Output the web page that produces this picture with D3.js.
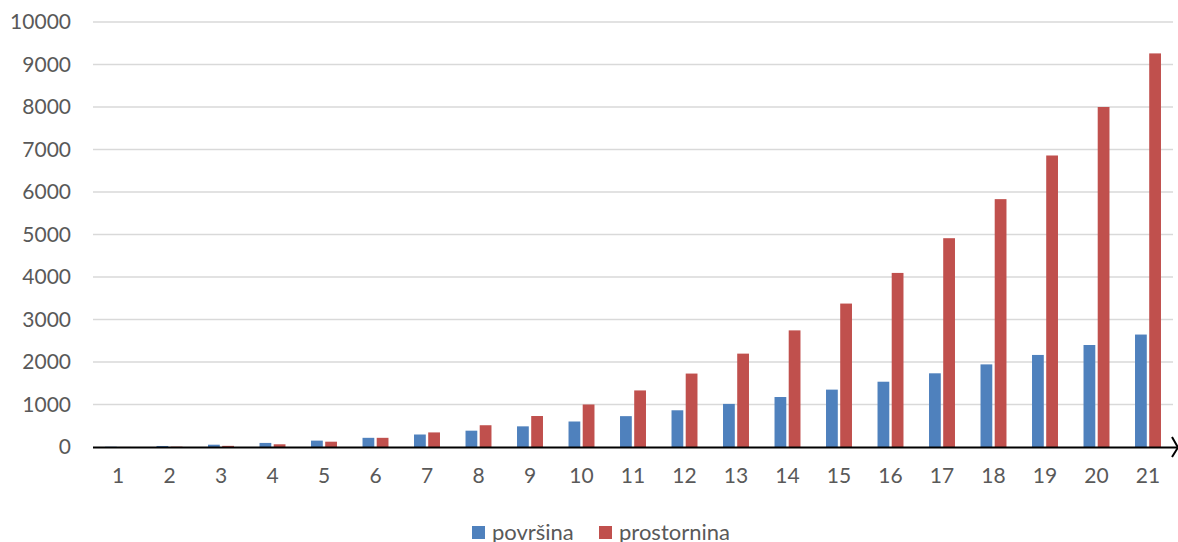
<!DOCTYPE html>
<html><head><meta charset="utf-8">
<script src="https://cdn.jsdelivr.net/npm/d3@7"></script>
<style>body{margin:0;background:#fff}svg{display:block}</style>
</head><body><div id="chart"></div>
<script>
const categories = ["1","2","3","4","5","6","7","8","9","10","11","12","13","14","15","16","17","18","19","20","21"];
const povrsina = [6,24,54,96,150,216,294,384,486,600,726,864,1014,1176,1350,1536,1734,1944,2166,2400,2646];
const prostornina = [1,8,27,64,125,216,343,512,729,1000,1331,1728,2197,2744,3375,4096,4913,5832,6859,8000,9261];
const yTicks = [0,1000,2000,3000,4000,5000,6000,7000,8000,9000,10000];
const seriesNames = ["površina","prostornina"];
const colors = ["#4F81BD","#C0504D"];

const W=1178,H=542;
const svg=d3.select("#chart").append("svg").attr("width",W).attr("height",H);
const font="Lato, 'Open Sans', sans-serif";
const x=d3.scaleBand().domain(categories).range([92.25,1173.75]).paddingInner(0).paddingOuter(0);
const y=d3.scaleLinear().domain([0,10000]).range([447,22]);
const x1=d3.scaleBand().domain(seriesNames).range([0,x.bandwidth()]).paddingInner(0.17).paddingOuter(0.9);

// gridlines
svg.append("g").selectAll("line").data(yTicks.filter(d=>d>0)).join("line")
 .attr("x1",93).attr("x2",1173).attr("y1",d=>y(d)).attr("y2",d=>y(d))
 .attr("stroke","#d9d9d9").attr("stroke-width",1.3);

// y labels
const ya=d3.axisLeft(y).tickValues(yTicks).tickFormat(d3.format("d")).tickSize(0).tickPadding(0);
const yg=svg.append("g").attr("transform","translate(71,0)").call(ya);
yg.select(".domain").remove();
yg.selectAll("text").attr("font-family",font).attr("font-size",21).attr("fill","#595959");

// bars
const data=categories.map((c,i)=>({c,vals:[povrsina[i],prostornina[i]]}));
const g=svg.append("g");
g.selectAll("g").data(data).join("g").attr("transform",d=>`translate(${x(d.c)},0)`)
 .selectAll("rect").data(d=>d.vals.map((v,k)=>({k,v}))).join("rect")
 .attr("x",d=>x1(seriesNames[d.k])).attr("width",x1.bandwidth())
 .attr("y",d=>y(d.v)).attr("height",d=>y(0)-y(d.v)).attr("fill",d=>colors[d.k]);

// x axis
svg.append("line").attr("x1",93).attr("x2",1177).attr("y1",447.5).attr("y2",447.5).attr("stroke","#000").attr("stroke-width",2.2);
svg.append("path").attr("d","M1172,437 L1178,447.5 L1172,457").attr("fill","none").attr("stroke","#000").attr("stroke-width",2);
const xa=d3.axisBottom(x).tickSize(0).tickPadding(0);
const xg=svg.append("g").attr("transform","translate(0,468)").call(xa);
xg.select(".domain").remove();
xg.selectAll("text").attr("font-family",font).attr("font-size",21).attr("fill","#595959").attr("dy","0.72em");

// legend
const lg=svg.append("g");
const lx=[472,599];
seriesNames.forEach((n,i)=>{
  lg.append("rect").attr("x",lx[i]).attr("y",526).attr("width",13).attr("height",13).attr("fill",colors[i]);
  lg.append("text").attr("x",lx[i]+20).attr("y",540).text(n).attr("font-family",font).attr("font-size",22).attr("fill","#595959");
});
</script></body></html>
